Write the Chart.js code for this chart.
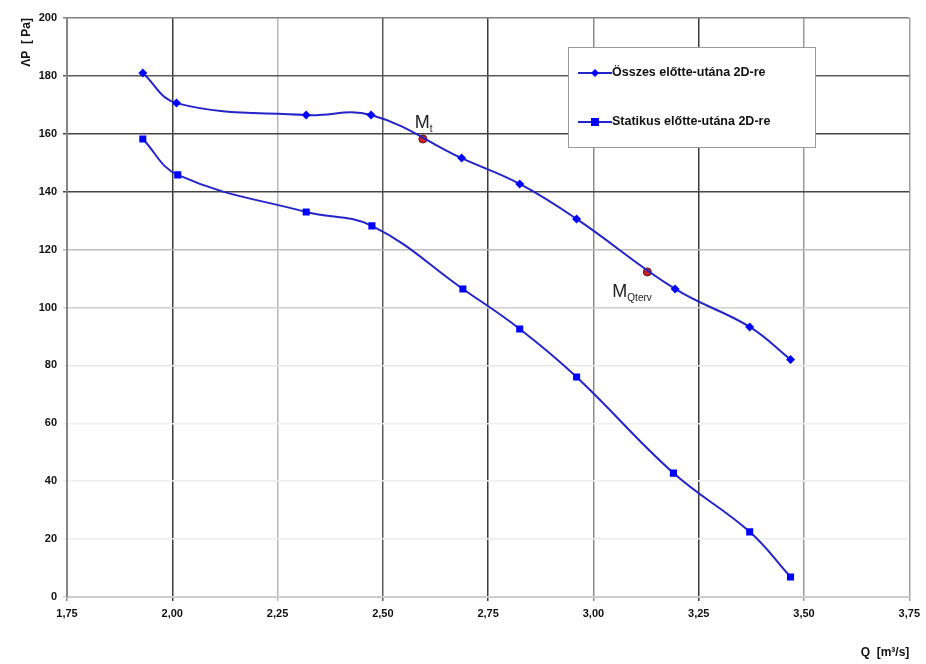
<!DOCTYPE html>
<html>
<head>
<meta charset="utf-8">
<script src="https://cdn.jsdelivr.net/npm/chart.js@4"></script>
<style>
html,body{margin:0;padding:0;background:#fff;}
#wrap{width:926px;height:664px;position:relative;}
</style>
</head>
<body>
<div id="wrap"><canvas id="c" width="926" height="664"></canvas></div>
<script>
// ---- data ----
const qOsszes   = [1.93, 2.01, 2.318, 2.472, 2.687, 2.825, 2.96, 3.194, 3.371, 3.468];
const dpOsszes  = [181, 170.6, 166.5, 166.5, 151.6, 142.7, 130.6, 106.4, 93.3, 82];
const qStatikus = [1.93, 2.013, 2.318, 2.474, 2.69, 2.825, 2.96, 3.19, 3.371, 3.468];
const dpStatikus= [158.2, 145.8, 133, 128.2, 106.4, 92.6, 76, 42.8, 22.5, 6.9];
const qPoints   = [2.595, 3.128];
const dpPoints  = [158.2, 112.3];
const pointNames = [["M", "t"], ["M", "Qterv"]];
const seriesNames = ["Összes előtte-utána 2D-re", "Statikus előtte-utána 2D-re"];
const xTitle = "Q  [m³/s]";
const yTitle = "ΛP  [ Pa]";

const toXY = (xs, ys) => xs.map((x, i) => ({x: x, y: ys[i]}));
const FONT = "'Liberation Sans Narrow','Liberation Sans',Arial,sans-serif";
const LINE = '#2424c8';
const MARK = '#0000ff';

const xGrid = {1.75:'#8a8a8a', 2:'#3a3a3a', 2.25:'#b8b8b8', 2.5:'#5a5a5a', 2.75:'#3a3a3a', 3:'#8a8a8a', 3.25:'#3a3a3a', 3.5:'#9a9a9a', 3.75:'#a0a0a0'};
const yGrid = {0:'#d0d0d0', 20:'#ececec', 40:'#eeeeee', 60:'#eeeeee', 80:'#e8e8e8', 100:'#cfcfcf', 120:'#bdbdbd', 140:'#454545', 160:'#454545', 180:'#5a5a5a', 200:'#808080'};

const legendPlugin = {
  id: 'boxLegend',
  afterDraw(chart) {
    const ctx = chart.ctx;
    ctx.save();
    ctx.fillStyle = '#fff';
    ctx.fillRect(568, 47, 247, 100);
    ctx.strokeStyle = '#9a9a9a';
    ctx.lineWidth = 1;
    ctx.strokeRect(568.5, 47.5, 247, 100);
    const rows = [73, 122];
    rows.forEach((y, i) => {
      ctx.strokeStyle = LINE; ctx.lineWidth = 2;
      ctx.beginPath(); ctx.moveTo(578, y); ctx.lineTo(612, y); ctx.stroke();
      ctx.fillStyle = MARK;
      if (i === 0) {
        ctx.beginPath(); ctx.moveTo(595, y-4); ctx.lineTo(599, y); ctx.lineTo(595, y+4); ctx.lineTo(591, y); ctx.closePath(); ctx.fill();
      } else {
        ctx.fillRect(591, y-4, 8, 8);
      }
      ctx.fillStyle = '#111';
      ctx.font = "bold 12.5px 'Liberation Sans',Arial,sans-serif";
      ctx.textBaseline = 'middle';
      ctx.textAlign = 'left';
      ctx.fillText(seriesNames[i], 612, y);
    });
    const xs = chart.scales.x, ys = chart.scales.y;
    const offs = [[-8, -11], [-35, 25]];
    qPoints.forEach((q, i) => {
      const px = xs.getPixelForValue(q) + offs[i][0];
      const py = ys.getPixelForValue(dpPoints[i]) + offs[i][1];
      ctx.fillStyle = '#222';
      ctx.textBaseline = 'alphabetic';
      ctx.font = "18px 'Liberation Sans Narrow','Liberation Sans',Arial,sans-serif";
      ctx.fillText(pointNames[i][0], px, py);
      const w = ctx.measureText(pointNames[i][0]).width;
      ctx.font = "10px 'Liberation Sans Narrow','Liberation Sans',Arial,sans-serif";
      ctx.fillText(pointNames[i][1], px + w, py + 4);
    });
    ctx.restore();
  }
};

new Chart(document.getElementById('c'), {
  type: 'scatter',
  data: {
    datasets: [
      { label: seriesNames[0], data: toXY(qOsszes, dpOsszes), showLine: true, tension: 0.4,
        borderColor: LINE, borderWidth: 2, pointStyle: 'rectRot', pointRadius: 4.5,
        pointBackgroundColor: MARK, pointBorderColor: MARK, pointBorderWidth: 0 },
      { label: seriesNames[1], data: toXY(qStatikus, dpStatikus), showLine: true, tension: 0.4,
        borderColor: LINE, borderWidth: 2, pointStyle: 'rect', pointRadius: 5,
        pointBackgroundColor: MARK, pointBorderColor: MARK, pointBorderWidth: 0 },
      { label: 'M', data: toXY(qPoints, dpPoints), showLine: false, pointStyle: 'circle',
        pointRadius: 4, pointBackgroundColor: '#d42020', pointBorderColor: '#5a1010', pointBorderWidth: 1 }
    ]
  },
  options: {
    responsive: false,
    animation: false,
    layout: { padding: { top: 18, right: 8, left: 0, bottom: 0 } },
    plugins: { legend: { display: false }, tooltip: { enabled: false } },
    scales: {
      x: {
        type: 'linear', min: 1.75, max: 3.75,
        afterFit(s) { s.height = 67; },
        afterBuildTicks(s) { s.ticks = [1.75,2,2.25,2.5,2.75,3,3.25,3.5,3.75].map(v => ({value: v})); },
        ticks: { color: '#111', padding: 6, maxRotation: 0,
          font: { family: FONT, size: 11, weight: 'bold' },
          callback: v => v.toFixed(2).replace('.', ',') },
        grid: { color: c => xGrid[c.tick ? c.tick.value : 0] || '#999', lineWidth: 1.5, tickLength: 4, drawTicks: true },
        border: { color: '#c8c8c8', width: 1 },
        title: { display: true, text: xTitle, align: 'end', color: '#111',
          font: { family: FONT, size: 12, weight: 'bold' }, padding: { top: 17 } }
      },
      y: {
        min: 0, max: 200,
        afterFit(s) { s.width = 67; },
        ticks: { stepSize: 20, color: '#111', padding: 6,
          font: { family: FONT, size: 11, weight: 'bold' } },
        grid: { color: c => yGrid[c.tick ? c.tick.value : 0] || '#ddd', lineWidth: 1.5, tickLength: 4 },
        border: { color: '#858585', width: 2 },
        title: { display: true, text: yTitle, align: 'end', color: '#111',
          font: { family: FONT, size: 12, weight: 'bold' }, padding: { top: 19, bottom: 4 } }
      }
    }
  },
  plugins: [legendPlugin]
});
</script>
</body>
</html>
